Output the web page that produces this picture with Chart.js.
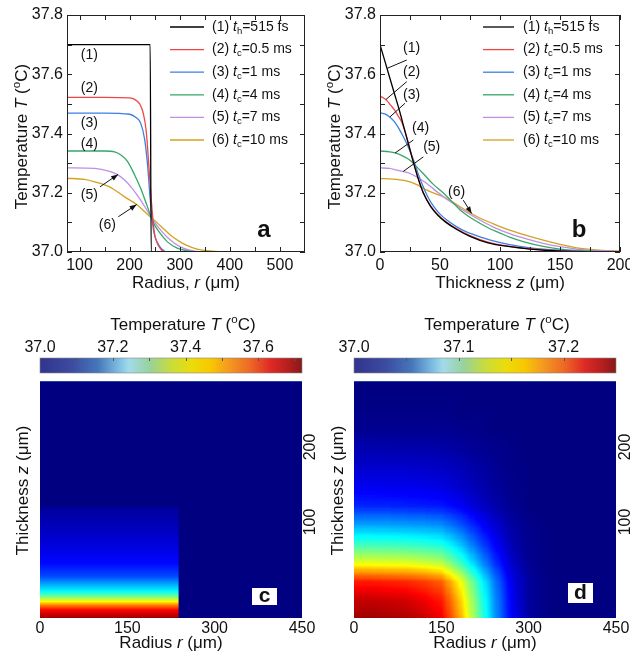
<!DOCTYPE html>
<html>
<head>
<meta charset="utf-8">
<script src="https://cdn.jsdelivr.net/npm/chart.js@4.4.1/dist/chart.umd.min.js"></script>
<style>
  html, body { margin: 0; padding: 0; background: #fff; }
  #wrap { position: relative; width: 630px; height: 656px; overflow: hidden; }
  #wrap canvas { position: absolute; }
</style>
</head>
<body>
<div id="wrap">
  <canvas id="panelA" width="315" height="295" style="left:0;top:0"></canvas>
  <canvas id="panelB" width="315" height="295" style="left:315px;top:0"></canvas>
  <canvas id="panelC" width="320" height="361" style="left:0;top:295px"></canvas>
  <canvas id="panelD" width="310" height="361" style="left:320px;top:295px"></canvas>
</div>
<script>
// ---------- data ----------
const tempTicks = [37.0, 37.2, 37.4, 37.6, 37.8];
const tempMinor = [37.1, 37.3, 37.5, 37.7];
const radiusTicks = [100, 200, 300, 400, 500];
const radiusMinor = [150, 250, 350, 450];
const depthTicks = [0, 50, 100, 150, 200];
const depthMinor = [25, 75, 125, 175];

const legendNum = ['(1)', '(2)', '(3)', '(4)', '(5)', '(6)'];
const legendSub = ['h', 'c', 'c', 'c', 'c', 'c'];
const legendVal = ['=515 fs', '=0.5 ms', '=1 ms', '=4 ms', '=7 ms', '=10 ms'];

// panel a: T vs radius r (um) at the surface
const radial1 = [[75, 37.70], [150, 37.70], [200, 37.70], [241, 37.70], [243, 37.0], [300, 37.0], [550, 37.0]];
const radial2 = [[75, 37.522], [150, 37.522], [200, 37.52], [210, 37.515], [220, 37.50], [227, 37.47], [233, 37.41], [238, 37.30], [243, 37.18], [249, 37.07], [255, 37.03], [262, 37.01], [270, 37.0], [550, 37.0]];
const radial3 = [[75, 37.469], [150, 37.469], [200, 37.465], [212, 37.455], [222, 37.435], [230, 37.38], [236, 37.29], [241, 37.18], [248, 37.07], [256, 37.03], [264, 37.01], [275, 37.0], [550, 37.0]];
const radial4 = [[75, 37.341], [150, 37.341], [170, 37.338], [182, 37.328], [196, 37.305], [210, 37.26], [222, 37.215], [234, 37.16], [247, 37.10], [260, 37.065], [275, 37.035], [295, 37.013], [320, 37.003], [340, 37.0], [550, 37.0]];
const radial5 = [[75, 37.284], [130, 37.282], [160, 37.272], [175, 37.262], [190, 37.243], [205, 37.215], [220, 37.18], [235, 37.14], [250, 37.10], [265, 37.068], [280, 37.042], [300, 37.018], [320, 37.006], [345, 37.0], [550, 37.0]];
const radial6 = [[75, 37.249], [110, 37.245], [130, 37.237], [160, 37.22], [190, 37.186], [214, 37.16], [234, 37.13], [254, 37.10], [270, 37.075], [285, 37.052], [305, 37.03], [325, 37.015], [345, 37.006], [370, 37.002], [400, 37.0], [550, 37.0]];

// panel b: T vs thickness z (um) on the axis
const depth1 = [[0, 37.70], [4, 37.645], [8, 37.59], [12, 37.535], [16, 37.48], [20, 37.42], [24, 37.36], [28, 37.30], [32, 37.245], [36, 37.20], [42, 37.155], [48, 37.125], [55, 37.10], [64, 37.076], [75, 37.053], [90, 37.031], [108, 37.018], [125, 37.01], [140, 37.005], [165, 37.001], [200, 37.0]];
const depth2 = [[0, 37.525], [3, 37.52], [6, 37.51], [9, 37.495], [12, 37.48], [15, 37.46], [18, 37.44], [21, 37.405], [24, 37.362], [28, 37.303], [32, 37.248], [36, 37.202], [42, 37.157], [48, 37.127], [55, 37.102], [64, 37.078], [75, 37.055], [90, 37.033], [108, 37.019], [125, 37.011], [140, 37.006], [165, 37.002], [200, 37.0]];
const depth3 = [[0, 37.47], [4, 37.466], [8, 37.456], [12, 37.44], [16, 37.415], [20, 37.385], [24, 37.35], [28, 37.31], [32, 37.262], [36, 37.22], [40, 37.185], [45, 37.152], [50, 37.128], [56, 37.107], [64, 37.085], [72, 37.068], [80, 37.056], [92, 37.04], [108, 37.025], [125, 37.014], [145, 37.007], [170, 37.002], [200, 37.0]];
const depth4 = [[0, 37.341], [8, 37.338], [14, 37.333], [20, 37.322], [25, 37.31], [30, 37.29], [36, 37.265], [44, 37.23], [53, 37.198], [60, 37.17], [67, 37.141], [74, 37.12], [81, 37.102], [90, 37.082], [100, 37.064], [108, 37.05], [120, 37.034], [136, 37.019], [150, 37.01], [165, 37.005], [180, 37.002], [200, 37.0]];
const depth5 = [[0, 37.284], [8, 37.282], [14, 37.276], [20, 37.271], [25, 37.265], [32, 37.25], [39, 37.231], [46, 37.208], [53, 37.186], [60, 37.166], [67, 37.147], [74, 37.13], [81, 37.113], [94, 37.085], [108, 37.062], [122, 37.044], [136, 37.029], [150, 37.018], [164, 37.01], [180, 37.005], [200, 37.002]];
const depth6 = [[0, 37.248], [8, 37.247], [14, 37.245], [20, 37.242], [25, 37.237], [32, 37.225], [39, 37.209], [46, 37.197], [53, 37.186], [60, 37.17], [67, 37.152], [74, 37.135], [81, 37.119], [94, 37.096], [108, 37.074], [122, 37.056], [136, 37.04], [150, 37.026], [164, 37.014], [180, 37.007], [200, 37.003]];

// maps c and d
const mapRTicks = [0, 150, 300, 450];
const mapZTicks = [100, 200];
const cbTicksC = [37.0, 37.2, 37.4, 37.6];
const cbMarksC = [37.1, 37.2, 37.3, 37.4, 37.5, 37.6, 37.7];
const cbTicksD = [37.0, 37.1, 37.2];
const cbMarksD = [37.05, 37.1, 37.15, 37.2];

// c: heated disc, T profile along z inside r < edge, 37.0 outside
const heatEdgeC = 238;
const heatZC = [-28, -22, -17, -11, -6, 0, 7, 16, 27, 45, 76, 100, 118, 122, 288];
const heatTC = [37.698, 37.662, 37.626, 37.54, 37.454, 37.36, 37.274, 37.216, 37.144, 37.094, 37.058, 37.036, 37.022, 37.0, 37.0];

// d: field after 10 ms, rows from bottom (z) x columns (r)
const heatRD = [0, 30, 60, 90, 120, 150, 180, 210, 240, 270, 300, 330, 360, 390, 420, 450];
const heatZD = [-28, -3, 22, 47, 72, 97, 122, 147, 172, 197, 222, 247, 272, 297];
const heatTD = [
  [37.243, 37.243, 37.241, 37.239, 37.233, 37.223, 37.180, 37.125, 37.073, 37.030, 37.009, 37.002, 37.0, 37.0, 37.0, 37.0],
  [37.233, 37.233, 37.231, 37.229, 37.223, 37.213, 37.173, 37.120, 37.070, 37.029, 37.008, 37.002, 37.0, 37.0, 37.0, 37.0],
  [37.213, 37.213, 37.211, 37.209, 37.204, 37.195, 37.158, 37.109, 37.064, 37.026, 37.008, 37.002, 37.0, 37.0, 37.0, 37.0],
  [37.150, 37.150, 37.149, 37.148, 37.144, 37.138, 37.111, 37.077, 37.045, 37.019, 37.005, 37.001, 37.0, 37.0, 37.0, 37.0],
  [37.108, 37.108, 37.107, 37.106, 37.103, 37.099, 37.080, 37.055, 37.032, 37.013, 37.004, 37.001, 37.0, 37.0, 37.0, 37.0],
  [37.073, 37.073, 37.072, 37.071, 37.070, 37.067, 37.054, 37.037, 37.022, 37.009, 37.003, 37.001, 37.0, 37.0, 37.0, 37.0],
  [37.040, 37.040, 37.040, 37.039, 37.038, 37.037, 37.030, 37.021, 37.012, 37.005, 37.001, 37.0, 37.0, 37.0, 37.0, 37.0],
  [37.028, 37.028, 37.027, 37.027, 37.026, 37.025, 37.020, 37.014, 37.008, 37.003, 37.001, 37.0, 37.0, 37.0, 37.0, 37.0],
  [37.020, 37.020, 37.020, 37.020, 37.019, 37.018, 37.015, 37.010, 37.006, 37.002, 37.001, 37.0, 37.0, 37.0, 37.0, 37.0],
  [37.013, 37.013, 37.012, 37.012, 37.012, 37.011, 37.009, 37.006, 37.004, 37.002, 37.0, 37.0, 37.0, 37.0, 37.0, 37.0],
  [37.005, 37.005, 37.005, 37.005, 37.005, 37.005, 37.004, 37.003, 37.001, 37.001, 37.0, 37.0, 37.0, 37.0, 37.0, 37.0],
  [37.002, 37.002, 37.002, 37.002, 37.002, 37.002, 37.001, 37.001, 37.001, 37.0, 37.0, 37.0, 37.0, 37.0, 37.0, 37.0],
  [37.001, 37.001, 37.001, 37.001, 37.001, 37.001, 37.001, 37.0, 37.0, 37.0, 37.0, 37.0, 37.0, 37.0, 37.0, 37.0],
  [37.0, 37.0, 37.0, 37.0, 37.0, 37.0, 37.0, 37.0, 37.0, 37.0, 37.0, 37.0, 37.0, 37.0, 37.0, 37.0]
];

// ---------- styles ----------
const FONT = "'Liberation Sans', Arial, sans-serif";
const lineColors = ['#000000', '#ee4646', '#3a7fe2', '#34a866', '#bf8fe4', '#d4a020'];
const cbStops = [
  [0, '#32348c'], [0.12, '#3c4ba0'], [0.22, '#4676ba'], [0.3, '#7cbde2'], [0.34, '#a2dbea'],
  [0.42, '#98d29a'], [0.5, '#c8dc3c'], [0.58, '#ecdc0a'], [0.65, '#f8c800'], [0.72, '#f49a20'],
  [0.8, '#ee6a24'], [0.88, '#de2a26'], [0.95, '#b41e1e'], [1, '#841a1a']
];

const jet = f => {
  f = Math.min(1, Math.max(0, f));
  const c = v => Math.round(255 * Math.min(1, Math.max(0, v)));
  return [c(1.5 - Math.abs(4 * f - 3)), c(1.5 - Math.abs(4 * f - 2)), c(1.5 - Math.abs(4 * f - 1))];
};
const rgb = a => `rgb(${a[0]},${a[1]},${a[2]})`;

// text with italic / sub / sup pieces
function rich(ctx, parts, x, y, size, opt = {}) {
  const pieces = parts.map(([t, k]) => {
    const s = (k === 'sub' || k === 'sup') ? size * 0.68 : size;
    const font = (k === 'i' ? 'italic ' : '') + (opt.bold ? 'bold ' : '') + s + 'px ' + FONT;
    ctx.font = font;
    return { t, k, font, w: ctx.measureText(t).width };
  });
  const total = pieces.reduce((s, p) => s + p.w, 0);
  ctx.save();
  ctx.translate(x, y);
  if (opt.rot) ctx.rotate(opt.rot);
  ctx.fillStyle = opt.color || '#111';
  ctx.textBaseline = 'middle';
  ctx.textAlign = 'left';
  let cx = opt.align === 'left' ? 0 : -total / 2;
  for (const p of pieces) {
    ctx.font = p.font;
    const dy = p.k === 'sub' ? size * 0.3 : p.k === 'sup' ? -size * 0.32 : 0;
    ctx.fillText(p.t, cx, dy);
    cx += p.w;
  }
  ctx.restore();
}

const noPad = s => { s.paddingLeft = s.paddingRight = s.paddingTop = s.paddingBottom = 0; };
const fixW = w => s => { s.width = w; noPad(s); };
const fixH = h => s => { s.height = h; noPad(s); };
const tickFont = { size: 16, family: FONT };

const tempTitle = [['Temperature ', ''], ['T', 'i'], [' (', ''], ['o', 'sup'], ['C)', '']];

// ---------- line panels ----------
function makeDecor(d) {
  return {
    id: 'decor' + d.key,
    afterDatasetsDraw(chart) {
      const { ctx, chartArea: a, scales: { x, y } } = chart;
      ctx.save();
      ctx.strokeStyle = '#222';
      ctx.lineWidth = 1;
      ctx.strokeRect(a.left + 0.5, a.top + 0.5, a.width - 1, a.height - 1);
      ctx.beginPath();
      [...tempTicks, ...tempMinor].forEach(v => {
        const py = Math.round(y.getPixelForValue(v)) + 0.5;
        ctx.moveTo(a.left, py); ctx.lineTo(a.left + 5, py);
        ctx.moveTo(a.right, py); ctx.lineTo(a.right - 5, py);
      });
      [...d.xTicks, ...d.xMinor].forEach(v => {
        const px = Math.round(x.getPixelForValue(v)) + 0.5;
        ctx.moveTo(px, a.bottom); ctx.lineTo(px, a.bottom - 5);
        ctx.moveTo(px, a.top); ctx.lineTo(px, a.top + 5);
      });
      ctx.stroke();

      // legend
      legendNum.forEach((n, i) => {
        const ly = a.top + 12 + i * 22.6;
        ctx.strokeStyle = lineColors[i];
        ctx.lineWidth = 1.3;
        ctx.beginPath();
        ctx.moveTo(a.right + d.leg[0], ly); ctx.lineTo(a.right + d.leg[1], ly);
        ctx.stroke();
        rich(ctx, [[n + ' ', ''], ['t', 'i'], [legendSub[i], 'sub'], [legendVal[i], '']], a.right + d.leg[2], ly, 14, { align: 'left' });
      });

      // curve labels and pointers
      ctx.strokeStyle = '#111';
      ctx.fillStyle = '#111';
      ctx.lineWidth = 1;
      d.notes.forEach(n => {
        rich(ctx, [[n.t, '']], x.getPixelForValue(n.x), y.getPixelForValue(n.y), 14);
        if (!n.from) return;
        const x1 = x.getPixelForValue(n.from[0]), y1 = y.getPixelForValue(n.from[1]);
        const x2 = x.getPixelForValue(n.to[0]), y2 = y.getPixelForValue(n.to[1]);
        ctx.beginPath(); ctx.moveTo(x1, y1); ctx.lineTo(x2, y2); ctx.stroke();
        if (n.head) {
          const ang = Math.atan2(y2 - y1, x2 - x1);
          ctx.beginPath();
          ctx.moveTo(x2, y2);
          ctx.lineTo(x2 - 7 * Math.cos(ang) + 2.6 * Math.sin(ang), y2 - 7 * Math.sin(ang) - 2.6 * Math.cos(ang));
          ctx.lineTo(x2 - 7 * Math.cos(ang) - 2.6 * Math.sin(ang), y2 - 7 * Math.sin(ang) + 2.6 * Math.cos(ang));
          ctx.closePath(); ctx.fill();
        }
      });

      // titles and panel letter
      rich(ctx, tempTitle, a.left - 45, (a.top + a.bottom) / 2 + 3, 17, { rot: -Math.PI / 2 });
      rich(ctx, d.xTitle, (a.left + a.right) / 2, a.bottom + 31, 17);
      rich(ctx, [[d.letter, '']], a.right - 41, a.bottom - 22, 24, { bold: true });
      ctx.restore();
    }
  };
}

function lineChart(id, series, xr, d) {
  return new Chart(document.getElementById(id), {
    type: 'line',
    data: {
      datasets: series.map((pts, i) => ({
        data: pts.map(p => ({ x: p[0], y: p[1] })),
        borderColor: lineColors[i],
        borderWidth: 1.3,
        pointRadius: 0,
        fill: false,
        cubicInterpolationMode: 'monotone'
      }))
    },
    options: {
      responsive: false,
      animation: false,
      layout: { padding: { left: 0, top: 15, right: 10, bottom: 0 } },
      plugins: { legend: { display: false }, tooltip: { enabled: false } },
      scales: {
        x: {
          type: 'linear', min: xr[0], max: xr[1],
          afterBuildTicks: s => { s.ticks = d.xTicks.map(v => ({ value: v })); },
          ticks: { font: tickFont, color: '#111', padding: 4, maxRotation: 0, autoSkip: false, callback: v => String(v) },
          grid: { display: false, drawTicks: false },
          border: { display: false },
          afterFit: fixH(43)
        },
        y: {
          type: 'linear', min: 37.0, max: 37.8,
          afterBuildTicks: s => { s.ticks = tempTicks.map(v => ({ value: v })); },
          ticks: { font: tickFont, color: '#111', padding: 4, callback: v => v.toFixed(1) },
          grid: { display: false, drawTicks: false },
          border: { display: false },
          afterFit: fixW(d.yw)
        }
      }
    },
    plugins: [makeDecor(d)]
  });
}

lineChart('panelA', [radial1, radial2, radial3, radial4, radial5, radial6], [75, 550], {
  key: 'A', yw: 67, xTicks: radiusTicks, xMinor: radiusMinor, letter: 'a',
  leg: [-135, -101, -93],
  xTitle: [['Radius, ', ''], ['r', 'i'], [' (\u03bcm)', '']],
  notes: [
    { t: '(1)', x: 119.5, y: 37.665 },
    { t: '(2)', x: 119.5, y: 37.552 },
    { t: '(3)', x: 119.5, y: 37.434 },
    { t: '(4)', x: 119.5, y: 37.364 },
    { t: '(5)', x: 119.5, y: 37.192, from: [140.9, 37.22], to: [177, 37.262], head: true },
    { t: '(6)', x: 155.4, y: 37.091, from: [177.4, 37.119], to: [214, 37.16], head: true }
  ]
});

lineChart('panelB', [depth1, depth2, depth3, depth4, depth5, depth6], [0, 200], {
  key: 'B', yw: 65, xTicks: depthTicks, xMinor: depthMinor, letter: 'b',
  leg: [-137, -106, -97],
  xTitle: [['Thickness ', ''], ['z', 'i'], [' (\u03bcm)', '']],
  notes: [
    { t: '(1)', x: 26.4, y: 37.687, from: [22.3, 37.648], to: [6, 37.62] },
    { t: '(2)', x: 26.4, y: 37.608, from: [22.3, 37.575], to: [5, 37.515] },
    { t: '(3)', x: 26.4, y: 37.53, from: [20.8, 37.502], to: [8.3, 37.456] },
    { t: '(4)', x: 33.9, y: 37.417, from: [27.8, 37.378], to: [12.5, 37.334] },
    { t: '(5)', x: 43.1, y: 37.355, from: [36.1, 37.321], to: [19.4, 37.272] },
    { t: '(6)', x: 63.9, y: 37.203, from: [69.4, 37.175], to: [76.4, 37.13], head: true }
  ]
});

// ---------- map panels ----------
function makeHeat(h) {
  const frac = T => Math.min(1, Math.max(0, (T - h.min) / (h.max - h.min)));
  return {
    id: 'heat' + h.key,
    beforeDatasetsDraw(chart) {
      const { ctx, chartArea: a, scales: { x, y } } = chart;
      ctx.save();
      ctx.beginPath(); ctx.rect(a.left, a.top, a.width, a.height); ctx.clip();
      ctx.fillStyle = rgb(jet(0));
      ctx.fillRect(a.left, a.top, a.width, a.height);
      if (h.kind === 'block') {
        const y0 = y.getPixelForValue(h.z[0]), y1 = y.getPixelForValue(h.z[h.z.length - 1]);
        const g = ctx.createLinearGradient(0, y0, 0, y1);
        h.z.forEach((z, i) => g.addColorStop((y.getPixelForValue(z) - y0) / (y1 - y0), rgb(jet(frac(h.t[i])))));
        const xl = x.getPixelForValue(0), xr = x.getPixelForValue(h.edge);
        ctx.fillStyle = g;
        ctx.fillRect(xl, y1, xr - xl, y0 - y1);
      } else {
        // grid cells as a tiny image of the colour-scale fraction, scaled
        // up by the canvas and coloured afterwards
        const nx = h.r.length, nz = h.z.length;
        const small = document.createElement('canvas');
        small.width = nx; small.height = nz;
        const sctx = small.getContext('2d');
        const img = sctx.createImageData(nx, nz);
        h.t.forEach((row, j) => row.forEach((T, i) => {
          const v = Math.round(255 * frac(T));
          const k = ((nz - 1 - j) * nx + i) * 4;
          img.data[k] = v; img.data[k + 1] = v; img.data[k + 2] = v; img.data[k + 3] = 255;
        }));
        sctx.putImageData(img, 0, 0);
        const dr = h.r[1] - h.r[0], dz = h.z[1] - h.z[0];
        const xl = x.getPixelForValue(h.r[0] - dr / 2), xr = x.getPixelForValue(h.r[nx - 1] + dr / 2);
        const yb = y.getPixelForValue(h.z[0] - dz / 2), yt = y.getPixelForValue(h.z[nz - 1] + dz / 2);
        const W = Math.round(xr - xl), H = Math.round(yb - yt);
        const big = document.createElement('canvas');
        big.width = W; big.height = H;
        const bctx = big.getContext('2d');
        bctx.imageSmoothingEnabled = true;
        bctx.drawImage(small, 0, 0, W, H);
        const px = bctx.getImageData(0, 0, W, H);
        for (let k = 0; k < px.data.length; k += 4) {
          const c = jet(px.data[k] / 255);
          px.data[k] = c[0]; px.data[k + 1] = c[1]; px.data[k + 2] = c[2]; px.data[k + 3] = 255;
        }
        bctx.putImageData(px, 0, 0);
        ctx.drawImage(big, xl, yt, W, H);
      }
      ctx.strokeStyle = '#2a40a8';
      ctx.lineWidth = 1;
      ctx.beginPath(); ctx.moveTo(a.left, a.top + 0.5); ctx.lineTo(a.right, a.top + 0.5); ctx.stroke();
      ctx.restore();
    },
    afterDraw(chart) {
      const { ctx, chartArea: a, scales: { y, cb } } = chart;
      ctx.save();
      // colour bar
      const bx0 = cb.getPixelForValue(h.min), bx1 = cb.getPixelForValue(h.max);
      const by = a.top - 23;
      const g = ctx.createLinearGradient(bx0, 0, bx1, 0);
      cbStops.forEach(s => g.addColorStop(s[0], s[1]));
      ctx.fillStyle = g;
      ctx.fillRect(bx0, by, bx1 - bx0, 15);
      ctx.strokeStyle = '#888';
      ctx.lineWidth = 0.6;
      ctx.strokeRect(bx0, by, bx1 - bx0, 15);
      ctx.strokeStyle = '#555';
      ctx.lineWidth = 1;
      ctx.beginPath();
      h.marks.forEach(v => {
        const px = Math.round(cb.getPixelForValue(v)) + 0.5;
        ctx.moveTo(px, by); ctx.lineTo(px, by + 3);
      });
      ctx.stroke();
      rich(ctx, tempTitle, (a.left + a.right) / 2 + 12, a.top - 56, 17);

      // right-hand z labels, rotated
      mapZTicks.forEach(v => {
        rich(ctx, [[String(v), '']], a.right + h.lx, y.getPixelForValue(v), 16, { rot: -Math.PI / 2 });
      });
      rich(ctx, [['Thickness ', ''], ['z', 'i'], [' (\u03bcm)', '']], a.left + h.tx, (a.top + a.bottom) / 2 - 9, 17, { rot: -Math.PI / 2 });
      rich(ctx, [['Radius ', ''], ['r', 'i'], [' (\u03bcm)', '']], (a.left + a.right) / 2, a.bottom + 25, 17);

      // letter box
      const b = h.box;
      ctx.fillStyle = '#fff';
      ctx.fillRect(a.right + b[0], a.bottom + b[1], b[2], b[3]);
      rich(ctx, [[h.letter, '']], a.right + b[0] + b[2] / 2, a.bottom + b[1] + b[3] / 2, 21, { bold: true });
      ctx.restore();
    }
  };
}

function mapChart(id, h) {
  return new Chart(document.getElementById(id), {
    type: 'scatter',
    data: { datasets: [] },
    options: {
      responsive: false,
      animation: false,
      layout: { padding: { left: h.padLeft, top: 0, right: 0, bottom: 0 } },
      plugins: { legend: { display: false }, tooltip: { enabled: false } },
      scales: {
        x: {
          type: 'linear', position: 'bottom', min: 0, max: 450,
          afterBuildTicks: s => { s.ticks = mapRTicks.map(v => ({ value: v })); },
          ticks: { font: tickFont, color: '#111', padding: 1, maxRotation: 0, autoSkip: false, callback: v => String(v) },
          grid: { display: false, drawTicks: false },
          border: { display: false },
          afterFit: fixH(38)
        },
        y: {
          type: 'linear', position: 'right', min: -28, max: 288,
          ticks: { display: false },
          grid: { display: false, drawTicks: false },
          border: { display: false },
          afterFit: fixW(h.yw)
        },
        cb: {
          type: 'linear', position: 'top', min: h.min, max: h.max,
          afterBuildTicks: s => { s.ticks = h.cbTicks.map(v => ({ value: v })); },
          ticks: { font: tickFont, color: '#111', padding: 24, maxRotation: 0, autoSkip: false, callback: v => v.toFixed(1) },
          grid: { display: false, drawTicks: false },
          border: { display: false },
          afterFit: fixH(86)
        }
      }
    },
    plugins: [makeHeat(h)]
  });
}

mapChart('panelC', {
  key: 'C', kind: 'block', min: 37.0, max: 37.72, z: heatZC, t: heatTC, edge: heatEdgeC,
  cbTicks: cbTicksC, marks: cbMarksC, padLeft: 40, yw: 18, lx: 8.5, tx: -17,
  letter: 'c', box: [-50, -30, 25, 17]
});

mapChart('panelD', {
  key: 'D', kind: 'grid', min: 37.0, max: 37.25, r: heatRD, z: heatZD, t: heatTD,
  cbTicks: cbTicksD, marks: cbMarksD, padLeft: 34, yw: 14, lx: 10, tx: -16,
  letter: 'd', box: [-48, -35, 25, 20]
});
</script>
</body>
</html>
